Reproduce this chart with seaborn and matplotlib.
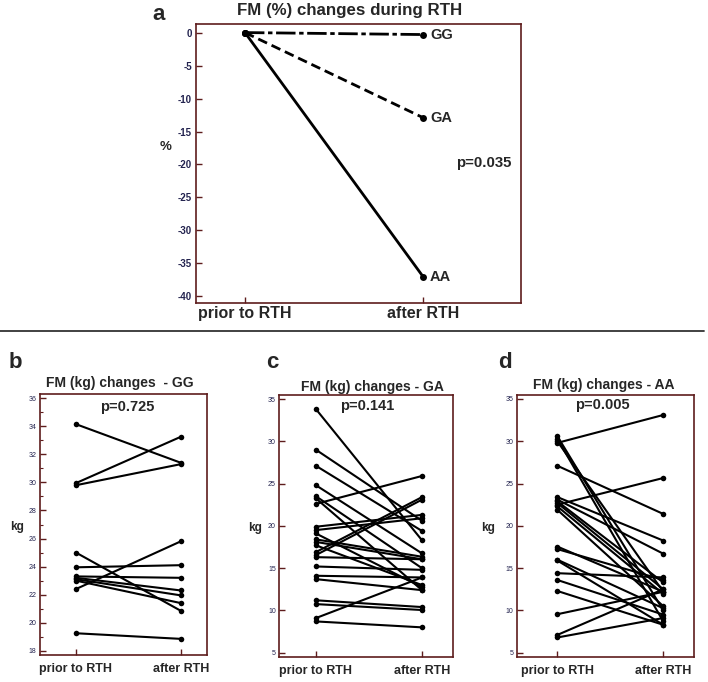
import pandas as pd
import seaborn as sns
import matplotlib.pyplot as plt
from matplotlib.lines import Line2D
from matplotlib.ticker import MultipleLocator

W, H = 708, 682

times = ['prior to RTH', 'after RTH']

# panel a: mean FM (%) change per genotype
genotypes = ['GG', 'GA', 'AA']
pct_prior = [0, 0, 0]
pct_after = [-0.3, -12.9, -37.0]

# panel b: GG, FM in kg
gg_prior = [34.15, 29.95, 29.8, 25.0, 23.95, 23.3, 23.2, 23.1, 23.0, 22.4, 19.25]
gg_after = [31.4, 33.25, 31.3, 20.85, 24.1, 23.2, 22.3, 21.95, 21.4, 25.8, 18.85]

# panel c: GA, FM in kg
ga_prior = [33.8, 29.0, 27.1, 24.8, 23.5, 23.25, 22.6, 19.9, 19.5, 19.1, 18.4, 18.1,
            17.7, 16.9, 16.55, 16.3, 15.2, 14.1, 13.7, 11.2, 10.75, 9.1, 8.7]
ga_after = [18.3, 20.6, 19.4, 16.75, 15.0, 12.4, 25.9, 21.3, 20.9, 12.75, 16.35, 16.05,
            13.0, 23.4, 23.1, 16.05, 14.8, 13.9, 12.4, 10.4, 10.05, 13.9, 8.0]

# panel d: AA, FM in kg
aa_prior = [30.6, 30.3, 30.0, 29.8, 27.1, 23.4, 23.1, 22.9, 22.5, 22.7, 22.3, 21.9,
            17.55, 17.25, 16.0, 15.9, 14.4, 13.6, 12.3, 9.55, 7.1, 6.8]
aa_after = [10.0, 8.7, 12.2, 33.1, 21.4, 18.25, 16.7, 13.3, 25.65, 12.5, 11.95, 10.5,
            12.2, 13.6, 10.25, 8.3, 13.9, 9.5, 8.3, 12.2, 12.5, 9.1]

SPINE = '#5e1c1c'
NAVY = '#23234f'

sns.set_style('white')
plt.rcParams['font.family'] = ['Liberation Sans', 'DejaVu Sans']
plt.rcParams['axes.unicode_minus'] = False


def pos(x, y):
    return x / W, 1 - y / H


def box(left, top, right, bottom):
    return [left / W, 1 - bottom / H, (right - left) / W, (bottom - top) / H]


def long_table(prior, after):
    n = len(prior)
    return pd.DataFrame({'subject': list(range(n)) * 2,
                         'time': [0] * n + [1] * n,
                         'value': list(prior) + list(after)})


def style_axes(ax, xlab_size, ytick_size, ybold, xpad, ypad):
    for s in ax.spines.values():
        s.set_visible(True)
        s.set_color(SPINE)
        s.set_linewidth(1.2)
    ax.tick_params(axis='both', which='both', direction='in', color=SPINE,
                   left=True, bottom=True)
    ax.tick_params(axis='y', which='major', length=4, width=1, labelsize=ytick_size,
                   labelcolor=NAVY, pad=ypad)
    ax.tick_params(axis='y', which='minor', length=2, width=0.8)
    ax.tick_params(axis='x', length=4, width=1, labelsize=xlab_size, pad=xpad)
    ax.set_xticks([0, 1])
    ax.set_xticklabels(times, fontweight='bold')
    if ybold:
        for t in ax.get_yticklabels():
            t.set_fontweight('bold')
    ax.set_xlabel('')
    ax.set_ylabel('')
    if ax.get_legend() is not None:
        ax.get_legend().remove()


fig = plt.figure(figsize=(W / 100, H / 100), dpi=100)

# ---- panel a ----
ax = fig.add_axes(box(196, 24, 521, 303))
n = len(genotypes)
dfa = pd.DataFrame({'genotype': genotypes * 2,
                    'time': [0] * n + [1] * n,
                    'pct': pct_prior + pct_after})
sns.lineplot(data=dfa, x='time', y='pct', style='genotype',
             dashes={'GG': (7, 1.3, 1.6, 1.3), 'GA': (3.5, 1.8), 'AA': ''},
             color='black', lw=2, marker='o', markersize=5, markeredgewidth=0,
             estimator=None, ax=ax)
ax.set_xlim(-0.275, 1.55)
ax.set_ylim(-41.0, 1.3)
ax.yaxis.set_major_locator(MultipleLocator(5))
style_axes(ax, 11.5, 7, True, 2, 3)
for g, v in zip(genotypes, pct_after):
    ax.annotate(g, (1, v), xytext=(5, 0), textcoords='offset points',
                va='center', ha='left', fontsize=10.5, fontweight='bold')
fig.text(*pos(350, 10), 'FM (%) changes during RTH', ha='center', va='center',
         fontsize=12.2, fontweight='bold')
fig.text(*pos(159, 15), 'a', ha='center', va='center', fontsize=16, fontweight='bold')
fig.text(*pos(166, 147), '%', ha='center', va='center', fontsize=9.5, fontweight='bold')
fig.text(*pos(484, 163), 'p=0.035', ha='center', va='center', fontsize=10.8,
         fontweight='bold')

# separator
fig.add_artist(Line2D([0, 0.995], [1 - 330.5 / H] * 2, color='#333333', lw=1.3))

# ---- panels b, c, d ----
panels = [
    (gg_prior, gg_after, box(40, 394, 207, 655), (-0.343, 1.25), (17.7, 36.3), 2, 1,
     'FM (kg) changes  - GG', 120, 383, 'b', 15, 362, 'p=0.725', 127, 407, 17, 527),
    (ga_prior, ga_after, box(279.3, 395.3, 452.7, 656.7), (-0.346, 1.29), (4.53, 35.44), 5, None,
     'FM (kg) changes - GA', 372, 387, 'c', 272, 363, 'p=0.141', 367, 406, 255, 528),
    (aa_prior, aa_after, box(516.7, 395, 693.7, 656.7), (-0.383, 1.287), (4.53, 35.46), 5, None,
     'FM (kg) changes - AA', 604, 385, 'd', 505, 362, 'p=0.005', 602, 405, 488, 528),
]

for (prior, after, rect, xl, yl, major, minor, title, tx, ty, letter, lx, ly,
     ptxt, px, py, kx, ky) in panels:
    ax = fig.add_axes(rect)
    sns.lineplot(data=long_table(prior, after), x='time', y='value', units='subject',
                 estimator=None, color='black', lw=1.5, marker='o', markersize=4,
                 markeredgewidth=0, ax=ax)
    ax.set_xlim(*xl)
    ax.set_ylim(*yl)
    ax.yaxis.set_major_locator(MultipleLocator(major))
    if minor:
        ax.yaxis.set_minor_locator(MultipleLocator(minor))
    style_axes(ax, 9, 5, False, 6, 2.5)
    fig.text(*pos(tx, ty), title, ha='center', va='center', fontsize=10,
             fontweight='bold')
    fig.text(*pos(lx, ly), letter, ha='center', va='center', fontsize=16,
             fontweight='bold')
    fig.text(*pos(px, py), ptxt, ha='center', va='center', fontsize=10.5,
             fontweight='bold')
    fig.text(*pos(kx, ky), 'kg', ha='center', va='center', fontsize=8.5,
             fontweight='bold')

fig.savefig('out.png', dpi=100)
